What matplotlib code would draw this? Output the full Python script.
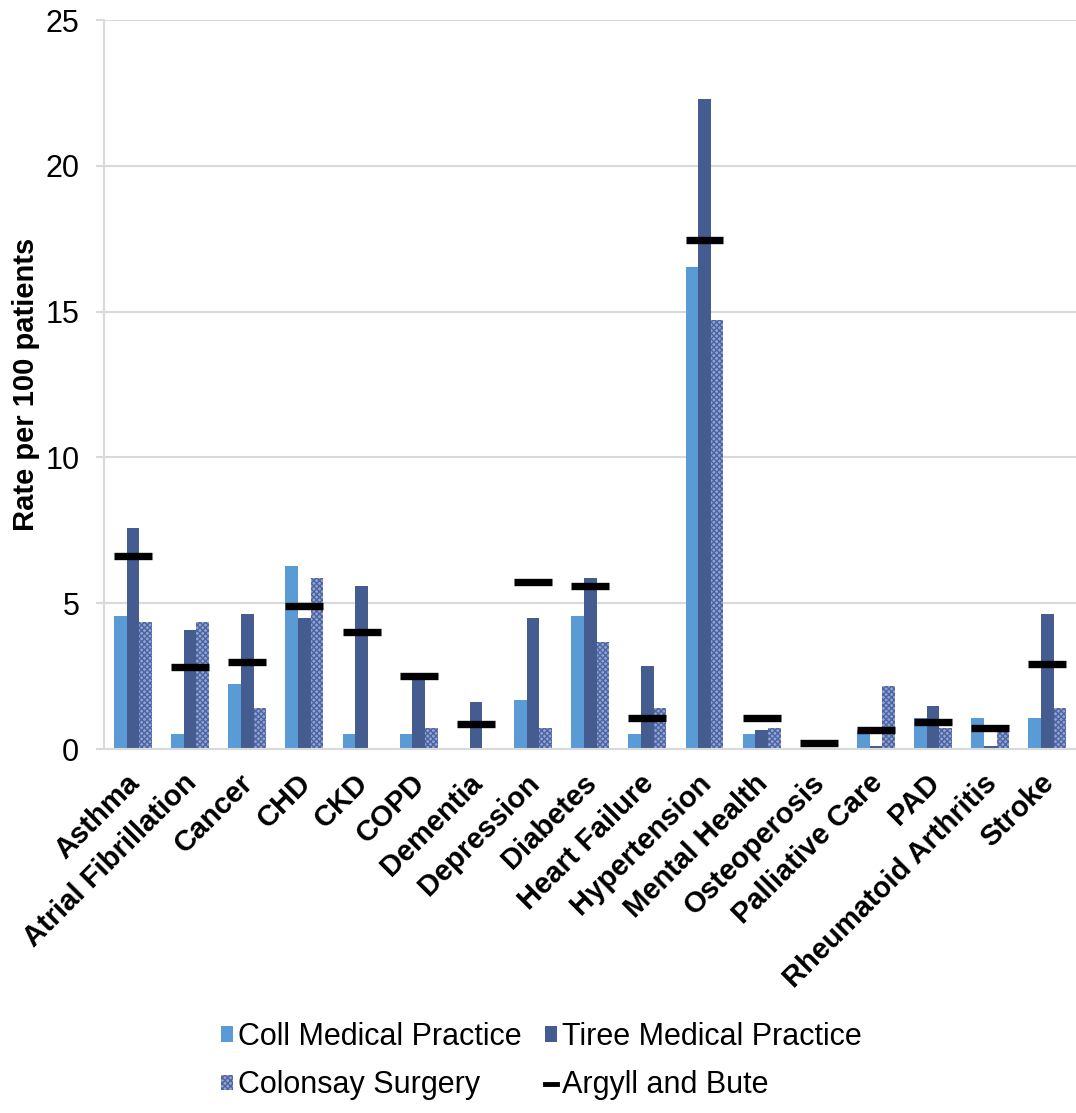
import numpy as np
import matplotlib.pyplot as plt
from matplotlib.lines import Line2D
from matplotlib.transforms import ScaledTranslation

plt.rcParams['font.family'] = ['Liberation Sans', 'DejaVu Sans']

conditions = ['Asthma', 'Atrial Fibrillation', 'Cancer', 'CHD', 'CKD', 'COPD',
              'Dementia', 'Depression', 'Diabetes', 'Heart Failure', 'Hypertension',
              'Mental Health', 'Osteoperosis', 'Palliative Care', 'PAD',
              'Rheumatoid Arthritis', 'Stroke']
coll = [4.56, 0.52, 2.23, 6.28, 0.52, 0.52, 0.0, 1.68, 4.56, 0.52, 16.54,
        0.52, 0.0, 0.66, 1.07, 1.07, 1.07]
tiree = [7.58, 4.08, 4.63, 4.49, 5.59, 2.45, 1.61, 4.49, 5.85, 2.85, 22.3,
         0.66, 0.05, 0.11, 1.49, 0.11, 4.63]
colonsay = [4.36, 4.36, 1.41, 5.85, 0.0, 0.72, 0.0, 0.72, 3.67, 1.41, 14.71,
            0.73, 0.0, 2.17, 0.73, 0.59, 1.42]
argyll = [6.63, 2.81, 2.99, 4.91, 4.02, 2.51, 0.87, 5.73, 5.6, 1.07, 17.44,
          1.07, 0.2, 0.67, 0.94, 0.73, 2.93]

x = np.arange(len(conditions))
w = 0.221

fig = plt.figure(figsize=(10.76, 11.13), dpi=100)
ax = fig.add_axes([0.097, 0.327, 0.903, 0.655])

b1 = ax.bar(x - w, coll, w, color='#5b9bd5', zorder=2)
b2 = ax.bar(x, tiree, w, color='#455c90', zorder=2)
b3 = ax.bar(x + w, colonsay, w, color='#95a4cd', hatch='xxxxxx', edgecolor='#4a64a6',
            linewidth=0, zorder=2)
ax.hlines(argyll, x - 1.5 * w, x + 1.5 * w, color='black', linewidth=5.3, zorder=3)

ax.set_xlim(-0.5, len(conditions) - 0.5)
ax.set_ylim(0, 25)
ax.set_yticks([0, 5, 10, 15, 20, 25])
ax.yaxis.grid(True, color='#d9d9d9', linewidth=1.5, zorder=0)
ax.set_axisbelow(True)
for s in ['top', 'right']:
    ax.spines[s].set_visible(False)
ax.spines['left'].set_color('#d9d9d9')
ax.spines['left'].set_linewidth(1.5)
ax.spines['bottom'].set_color('#d9d9d9')
ax.spines['bottom'].set_linewidth(1.5)
ax.tick_params(axis='y', length=6, width=1.5, color='#d9d9d9', labelsize=22, pad=12)
ax.tick_params(axis='x', length=0, pad=10)
ax.set_xticks(x)
ax.set_xticklabels(conditions, rotation=45, ha='right', rotation_mode='anchor',
                   fontweight='bold', fontsize=21)
# nudge the slanted labels down-left along their baseline
shift = ScaledTranslation(-0.08, -0.06, fig.dpi_scale_trans)
for lab in ax.get_xticklabels():
    lab.set_transform(lab.get_transform() + shift)
ax.set_ylabel('Rate per 100 patients', fontweight='bold', fontsize=21, labelpad=4)

handles = [b1, b3, b2, Line2D([], [], color='black', linewidth=3.5)]
labels = ['Coll Medical Practice', 'Colonsay Surgery',
          'Tiree Medical Practice', 'Argyll and Bute']
fig.legend(handles, labels, loc='center', bbox_to_anchor=(0.503, 1 - 1061 / 1113),
           ncol=2, frameon=False, fontsize=22, handlelength=0.42, handleheight=0.42,
           handletextpad=0.15, columnspacing=0.75, labelspacing=0.62)
plt.savefig('out.png', dpi=100)
